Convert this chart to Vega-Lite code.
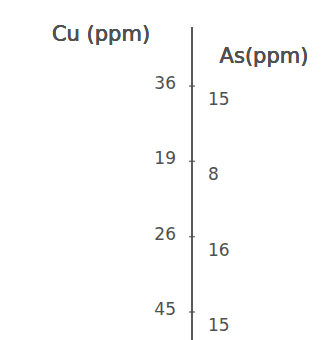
{
  "$schema": "https://vega.github.io/schema/vega-lite/v6.json",
  "width": 335,
  "height": 340,
  "autosize": "none",
  "padding": 0,
  "background": "white",
  "config": {"view": {"stroke": null}},
  "data": {"values": [
    {"sample": 1, "Cu": 36, "As": 15},
    {"sample": 2, "Cu": 19, "As": 8},
    {"sample": 3, "Cu": 26, "As": 16},
    {"sample": 4, "Cu": 45, "As": 15}
  ]},
  "layer": [
    {
      "mark": {"type": "rule", "color": "#5a5a5a", "strokeWidth": 2},
      "encoding": {
        "x": {"datum": 0, "type": "quantitative", "scale": {"domain": [-192, 143], "nice": false, "zero": false}, "axis": null},
        "y": {"datum": 0.22, "type": "quantitative", "scale": {"domain": [-0.142, 4.372], "nice": false, "zero": false, "reverse": true}, "axis": null},
        "y2": {"datum": 4.372}
      }
    },
    {
      "mark": {"type": "tick", "orient": "horizontal", "color": "#444", "size": 6, "thickness": 1.5},
      "encoding": {
        "x": {"datum": 0, "type": "quantitative"},
        "y": {"field": "sample", "type": "quantitative"}
      }
    },
    {
      "mark": {"type": "text", "align": "right", "baseline": "middle", "dx": -16, "dy": -2, "font": "DejaVu Sans", "fontSize": 17, "color": "#505050"},
      "encoding": {
        "x": {"datum": 0, "type": "quantitative"},
        "y": {"field": "sample", "type": "quantitative"},
        "text": {"field": "Cu"}
      }
    },
    {
      "mark": {"type": "text", "align": "left", "baseline": "middle", "dx": 16, "dy": 14, "font": "DejaVu Sans", "fontSize": 17, "color": "#505050"},
      "encoding": {
        "x": {"datum": 0, "type": "quantitative"},
        "y": {"field": "sample", "type": "quantitative"},
        "text": {"field": "As"}
      }
    },
    {
      "mark": {"type": "text", "align": "center", "baseline": "middle", "font": "DejaVu Sans", "fontSize": 21, "color": "#505050"},
      "encoding": {
        "x": {"datum": -91, "type": "quantitative"},
        "y": {"datum": 0.32, "type": "quantitative"},
        "text": {"value": "Cu (ppm)"}
      }
    },
    {
      "mark": {"type": "text", "align": "center", "baseline": "middle", "font": "DejaVu Sans", "fontSize": 21, "color": "#505050"},
      "encoding": {
        "x": {"datum": 72, "type": "quantitative"},
        "y": {"datum": 0.615, "type": "quantitative"},
        "text": {"value": "As(ppm)"}
      }
    }
  ]
}
